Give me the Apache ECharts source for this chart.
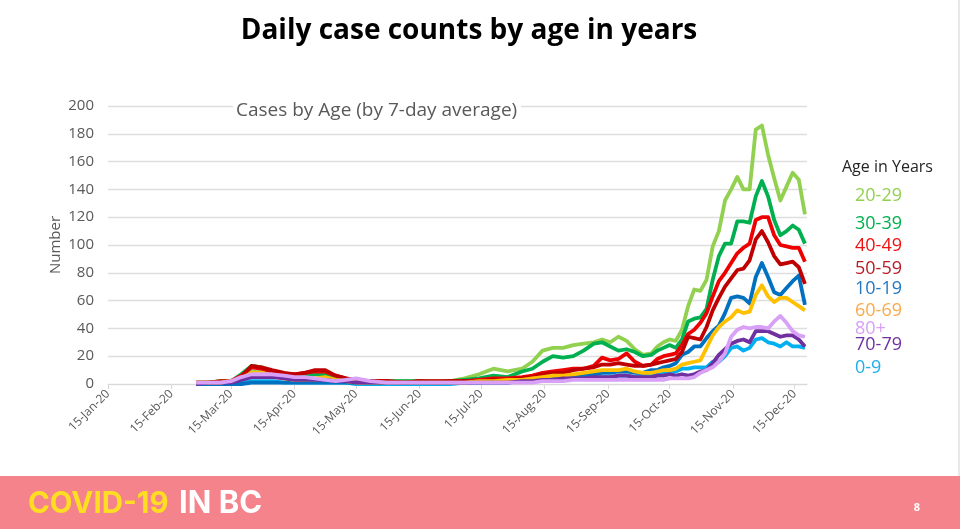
<!DOCTYPE html>
<html><head><meta charset="utf-8">
<style>html,body{margin:0;padding:0;background:#fff}#c{width:960px;height:529px}</style>
<script src="https://cdn.jsdelivr.net/npm/echarts@6/dist/echarts.min.js"></script></head>
<body><div id="c"></div>
<script>
const tickDates = ['2020-01-15','2020-02-15','2020-03-15','2020-04-15','2020-05-15','2020-06-15','2020-07-15','2020-08-15','2020-09-15','2020-10-15','2020-11-15','2020-12-15'];
const tickLabels = ['15-Jan-20','15-Feb-20','15-Mar-20','15-Apr-20','15-May-20','15-Jun-20','15-Jul-20','15-Aug-20','15-Sep-20','15-Oct-20','15-Nov-20','15-Dec-20'];
const sampleDates = ['02-27','03-04','03-10','03-15','03-20','03-25','03-30','04-04','04-10','04-15','04-20','04-25','04-30','05-05','05-10','05-15','05-22','05-30','06-08','06-15','06-22','06-30','07-07','07-14','07-21','07-28','08-04','08-09','08-14','08-19','08-24','08-29','09-03','09-08','09-12','09-16','09-20','09-24','09-28','10-02','10-06','10-09','10-12',
'10-15','10-18','10-21','10-24','10-27','10-30','11-02','11-05','11-08','11-11','11-14','11-17','11-20','11-23','11-26','11-29','12-02','12-05','12-08','12-11','12-14','12-17','12-20'];
const age0to9 = [0,0,0,0,1,2,2,2,1,1,1,1,1,1,1,0,0,0,0,0,0,0,1,1,1,1,2,2,3,3,4,4,4,5,5,5,6,6,5,6,7,8,8,
8,9,11,11,12,12,12,16,16,20,26,27,24,26,32,33,30,29,27,30,27,27,26];
const age10to19 = [0,0,0,0,0,1,1,1,1,1,1,1,1,1,1,1,1,1,1,1,1,1,1,1,2,2,3,3,4,4,5,5,6,7,8,8,9,9,8,8,10,10,12,
13,15,21,23,27,27,33,38,42,51,62,63,62,58,77,87,77,66,64,69,74,78,57];
const age20to29 = [1,1,2,2,5,9,9,6,4,3,3,3,4,3,2,2,2,2,2,2,2,2,4,7,11,9,11,16,24,26,26,28,29,30,32,30,34,31,25,21,22,27,30,
32,31,39,56,68,67,75,99,110,132,140,149,140,140,183,186,165,148,132,142,152,147,122];
const age30to39 = [1,1,2,2,7,13,12,8,5,5,6,7,7,5,3,2,2,2,2,2,2,2,3,4,6,5,9,11,16,20,19,20,24,29,30,27,24,25,23,20,21,24,26,
28,26,32,45,47,48,54,75,92,101,101,117,117,116,135,146,135,118,107,110,114,111,101];
const age40to49 = [1,1,2,2,6,12,11,9,7,7,8,9,9,6,4,2,2,2,1,2,2,2,2,3,4,4,5,6,8,9,10,11,11,13,19,17,18,22,16,13,14,18,20,
21,22,28,36,39,44,51,63,74,80,87,94,98,101,118,120,120,107,100,99,98,98,88];
const age50to59 = [1,1,1,2,5,13,12,10,8,7,8,10,10,6,4,3,2,2,1,2,1,2,2,2,3,3,4,5,7,8,8,10,11,12,14,14,15,14,13,13,14,15,16,
17,18,23,34,33,32,41,53,62,70,76,82,83,89,104,110,102,92,86,87,88,84,72];
const age60to69 = [1,1,1,2,4,8,8,6,4,3,3,4,5,3,2,1,1,1,1,1,1,1,1,2,2,3,3,4,5,6,6,7,8,9,10,10,10,11,9,8,8,9,10,
10,11,14,15,16,17,26,35,41,45,48,53,51,52,64,71,63,59,62,62,59,56,53];
const age70to79 = [0,1,1,1,3,5,5,5,4,3,3,3,3,2,2,1,1,1,1,1,1,1,1,1,1,1,2,2,3,3,4,4,4,5,5,5,6,6,5,5,5,6,6,
7,6,7,6,7,9,10,15,21,25,29,31,32,30,38,38,38,36,34,35,35,32,27];
const age80plus = [1,1,1,2,5,7,7,7,6,5,5,4,3,2,3,4,2,1,1,1,1,1,1,1,1,1,1,1,2,2,2,3,3,3,3,3,3,3,3,3,3,3,3,
4,4,4,4,5,8,10,12,16,22,34,39,41,40,41,41,40,45,49,44,38,35,34];
const groups = [
 ['0-9', age0to9, '#00b0f0'], ['10-19', age10to19, '#0070c0'], ['20-29', age20to29, '#92d050'],
 ['30-39', age30to39, '#00b050'], ['40-49', age40to49, '#ee0000'], ['50-59', age50to59, '#c00000'],
 ['60-69', age60to69, '#ffc000'], ['70-79', age70to79, '#7030a0'], ['80+', age80plus, '#d9a0f7']
];
const legendRows = [['20-29','#92d050',196],['30-39','#00b050',224],['40-49','#ee1111',246],['50-59','#b81c24',269],['10-19','#1f78c0',289],['60-69','#f9aa4b',311],['80+','#d9a0f7',329],['70-79','#7030a0',345],['0-9','#20aee8',368]];
const font = '"Open Sans","Noto Sans",sans-serif';
const dayOf = s => Math.round((new Date(s + 'T00:00:00Z').getTime() - Date.UTC(2020,0,15)) / 86400000);
const tickDays = tickDates.map(dayOf);
const chart = echarts.init(document.getElementById('c'), null, {renderer:'canvas'});
chart.setOption({
 animation:false,
 title:{text:'Daily case counts by age in years',left:464,top:12,textAlign:'center',
   textStyle:{fontFamily:font,fontWeight:'bold',fontSize:28,color:'#000'}},
 grid:{left:108,right:153,top:106,bottom:145},
 xAxis:{type:'value',min:0,max:341,
   axisLine:{show:true,onZero:false,lineStyle:{color:'#d9d9d9'}},
   axisTick:{show:true,customValues:tickDays,length:5,lineStyle:{color:'#d9d9d9'}},
   splitLine:{show:false},
   axisLabel:{customValues:tickDays,rotate:45,fontFamily:font,fontSize:12,color:'#595959',margin:8,hideOverlap:false,
     showMinLabel:true,showMaxLabel:true,
     formatter:v=>tickLabels[tickDays.indexOf(v)]||''}},
 yAxis:{type:'value',min:0,max:200,interval:20,name:'Number',nameLocation:'middle',nameGap:45,nameRotate:90,nameMoveOverlap:false,
   nameTextStyle:{fontFamily:font,fontSize:15,color:'#595959'},
   axisLine:{show:false},axisTick:{show:false},
   splitLine:{lineStyle:{color:'#dedede',width:1.4}},
   axisLabel:{fontFamily:font,fontSize:15,color:'#595959',margin:14}},
 series:groups.map(([name,vals,color])=>({name,type:'line',symbol:'none',smooth:false,
   lineStyle:{color,width:3.8,join:'round'},
   data:vals.map((v,i)=>[dayOf('2020-'+sampleDates[i]),v])})),
 graphic:[
  {type:'rect',silent:true,shape:{x:958,y:0,width:2,height:476},style:{fill:'#e8e8e8'}},
  {type:'rect',silent:true,shape:{x:0,y:476,width:960,height:53},style:{fill:'#f4838b'}},
  {type:'text',style:{x:28,y:504,text:'COVID-19',fill:'#ffdd22',font:'bold 29.5px Inter, "Open Sans", sans-serif',textVerticalAlign:'middle'}},
  {type:'text',style:{x:179,y:504,text:'IN BC',fill:'#ffffff',font:'bold 31px Inter, "Open Sans", sans-serif',textVerticalAlign:'middle'}},
  {type:'text',style:{x:917,y:508,text:'8',fill:'#ffffff',font:'bold 11px '+font,textAlign:'center',textVerticalAlign:'middle'}},
  {type:'rect',silent:true,z:100,shape:{x:233,y:100,width:288,height:24},style:{fill:'#ffffff'}},
  {type:'text',z:101,style:{x:236,y:111,text:'Cases by Age (by 7-day average)',fill:'#595959',font:'19px '+font,textVerticalAlign:'middle'}},
  {type:'text',style:{x:842,y:167,text:'Age in Years',fill:'#262626',font:'16px '+font,textVerticalAlign:'middle'}},
  ...legendRows.map(([t,c,y])=>({type:'text',style:{x:855,y,text:t,fill:c,font:'18px '+font,textVerticalAlign:'middle'}}))
 ]
});
</script></body></html>
